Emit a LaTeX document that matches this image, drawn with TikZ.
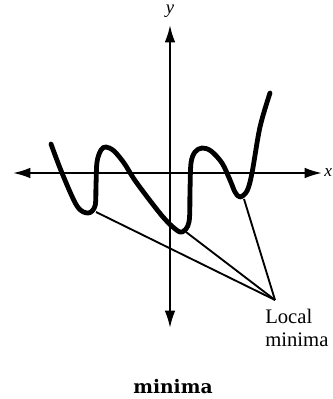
\documentclass[tikz,border=0pt]{standalone}
\usepackage{fontspec}
\setmainfont{Liberation Serif}
\newfontfamily\capfont{DejaVu Serif}
\usetikzlibrary{arrows.meta}
\begin{document}
\begin{tikzpicture}[x=0.75pt,y=-0.75pt,
  axis/.style={line width=1.6pt,{Latex[length=13pt,width=8pt]}-{Latex[length=13pt,width=8pt]}},
  graph/.style={line width=3.6pt,line cap=round,line join=round},
  pointer/.style={line width=1.4pt},
  lbl/.style={font=\fontsize{15.5}{17.5}\selectfont,inner sep=0pt}]
\useasboundingbox (0,0) rectangle (332,399);
\coordinate (xl) at (13,173);
\coordinate (xr) at (322,173);
\coordinate (yt) at (170,25);
\coordinate (yb) at (170,328);
\draw[axis] (xl) -- (xr);
\draw[axis] (yb) -- (yt);
\node[lbl,font=\fontsize{14}{16}\selectfont\itshape] (ylab) at (170,11) {y};
\node[lbl,font=\fontsize{13}{15}\selectfont\itshape,anchor=west] (xlab) at (324,173) {x};
\draw[graph] plot[smooth,tension=0.55] coordinates {
(51,144) (62,173) (77,206) (88,213) (95,206) (96,185) (97,162) (101,150) (106,147)
(114,151) (124,163) (134,179) (148,198) (163,217) (174,228) (182,232) (189,222)
(190,190) (191,163) (195,152) (202,148) (211,151) (222,163) (230,180) (235,192) (240,197)
(247,191) (252,173) (260,127) (270,93)};
\coordinate (m1) at (96,212);
\coordinate (m2) at (186,232);
\coordinate (m3) at (244,199);
\coordinate (tip) at (275,300);
\draw[pointer] (m1) -- (tip);
\draw[pointer] (m2) -- (tip);
\draw[pointer] (m3) -- (tip);
\node[lbl,align=left,anchor=north west] (loc) at (265,309) {Local\\minima};
\node[lbl,font=\capfont\bfseries\fontsize{14}{16}\selectfont] (cap) at (173,387) {minima};
\end{tikzpicture}
\end{document}
